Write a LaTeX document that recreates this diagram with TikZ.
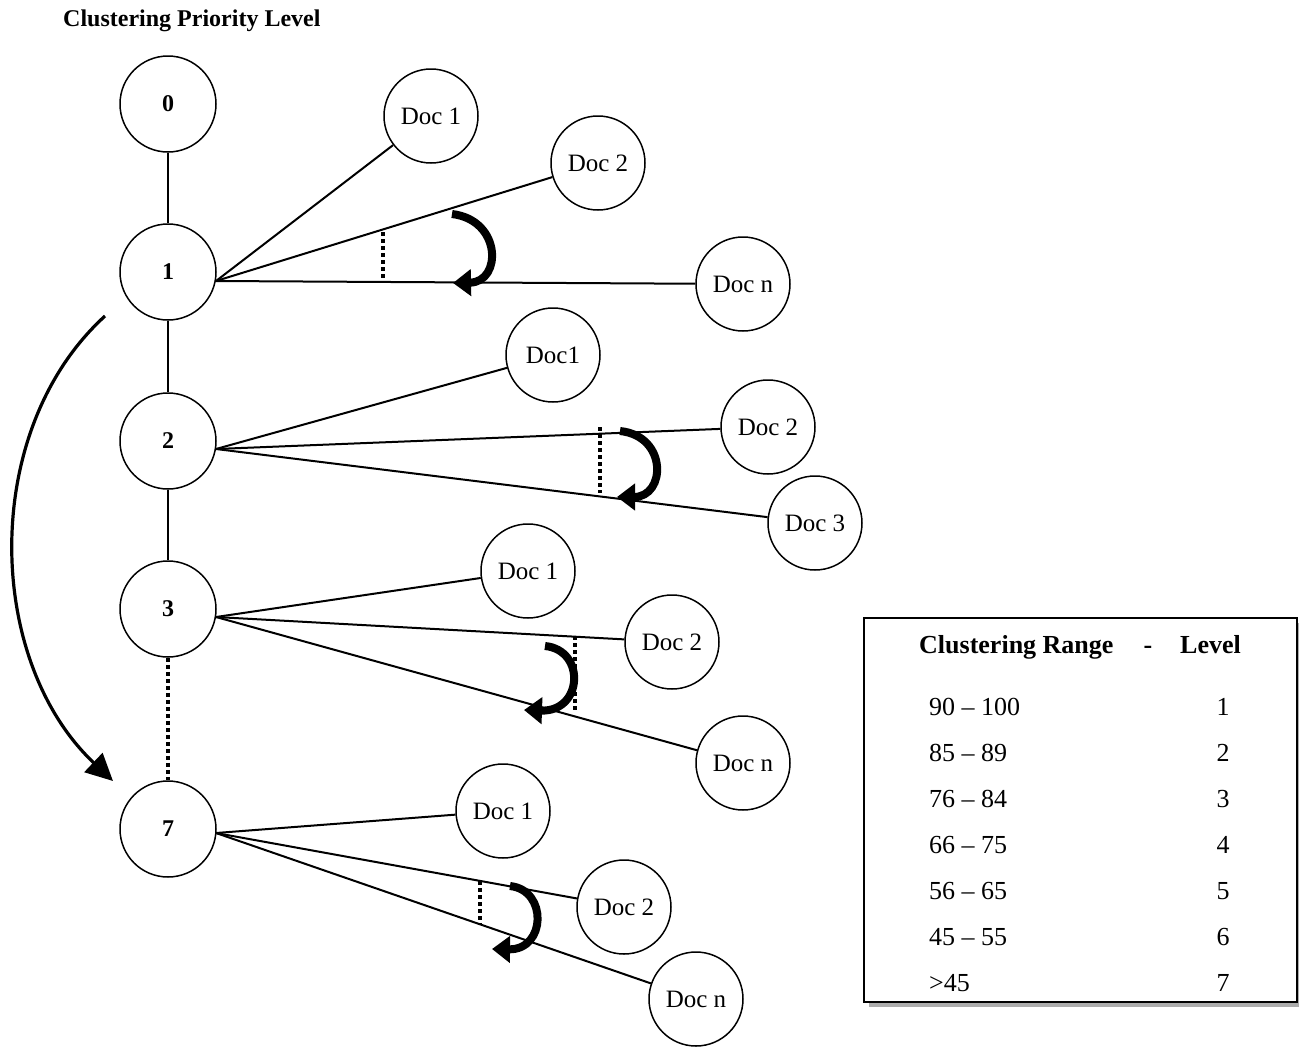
\documentclass[tikz,border=0pt]{standalone}
\usepackage{fontspec}
\setmainfont{Liberation Serif}
\usetikzlibrary{arrows.meta}
\begin{document}
\begin{tikzpicture}[x=1pt,y=-1pt,
  lvl/.style={circle,draw,line width=1.5pt,minimum size=96pt,inner sep=0pt,font=\fontsize{24}{28}\selectfont\bfseries},
  doc/.style={circle,draw,line width=1.5pt,minimum size=94pt,inner sep=0pt,font=\fontsize{25}{30}\selectfont},
  conn/.style={line width=2pt},
  dotv/.style={line width=3.5pt,dash pattern=on 4pt off 3pt},
  turn/.style={line width=8pt,-{Triangle[length=18pt,width=26pt]}},
  tab/.style={font=\fontsize{26}{30}\selectfont,inner sep=0pt}]
\useasboundingbox (0,0) rectangle (1299,1047);
\node[anchor=base west,inner sep=0pt,font=\fontsize{24}{28}\selectfont\bfseries] (title) at (63,26) {Clustering Priority Level};
% level nodes
\node[lvl] (l0) at (168,104) {0};
\node[lvl] (l1) at (168,272) {1};
\node[lvl] (l2) at (168,441) {2};
\node[lvl] (l3) at (168,609) {3};
\node[lvl] (l7) at (168,829) {7};
\draw[conn] (l0) -- (l1);
\draw[conn] (l1) -- (l2);
\draw[conn] (l2) -- (l3);
\draw[dotv] (l3) -- (l7);
% origins
\coordinate (o1) at (216,281);
\coordinate (o2) at (216,449);
\coordinate (o3) at (216,617);
\coordinate (o7) at (216,833);
% docs
\node[doc] (d11) at (431,116) {Doc 1};
\node[doc] (d12) at (598,163) {Doc 2};
\node[doc] (d1n) at (743,284) {Doc n};
\node[doc] (d21) at (553,355) {Doc1};
\node[doc] (d22) at (768,427) {Doc 2};
\node[doc] (d23) at (815,523) {Doc 3};
\node[doc] (d31) at (528,571) {Doc 1};
\node[doc] (d32) at (672,642) {Doc 2};
\node[doc] (d3n) at (743,763) {Doc n};
\node[doc] (d71) at (503,811) {Doc 1};
\node[doc] (d72) at (624,907) {Doc 2};
\node[doc] (d7n) at (696,999) {Doc n};
\foreach \o/\d in {o1/d11,o1/d12,o1/d1n,o2/d21,o2/d22,o2/d23,o3/d31,o3/d32,o3/d3n,o7/d71,o7/d72,o7/d7n}
  \draw[conn] (\o) -- (\d);
% dotted short lines
\coordinate (a1) at (383,232); \coordinate (b1) at (383,280);
\coordinate (a2) at (600,427); \coordinate (b2) at (600,493);
\coordinate (a3) at (575,636); \coordinate (b3) at (575,712);
\coordinate (a7) at (480,881); \coordinate (b7) at (480,925);
\draw[dotv] (a1) -- (b1);
\draw[dotv] (a2) -- (b2);
\draw[dotv] (a3) -- (b3);
\draw[dotv] (a7) -- (b7);
% turn arrows
\coordinate (s1) at (452,214); \coordinate (e1) at (453,283);
\coordinate (s2) at (620,431); \coordinate (e2) at (617,497);
\coordinate (s3) at (545,646); \coordinate (e3) at (524,710);
\coordinate (s7) at (510,886); \coordinate (e7) at (492,949);
\draw[turn] (s1) .. controls (502,220) and (502,282) .. (e1);
\draw[turn] (s2) .. controls (668,436) and (666,497) .. (e2);
\draw[turn] (s3) .. controls (586,650) and (583,712) .. (e3);
\draw[turn] (s7) .. controls (548,890) and (546,950) .. (e7);
% big arrow
\coordinate (bs) at (105,316); \coordinate (be) at (113,781);
\draw[line width=3.2pt,-{Triangle[length=27pt,width=26pt]}] (bs) .. controls (-20,430) and (-15,660) .. (be);
% table
\fill[gray!65] (869,623) rectangle (1302,1007);
\node[draw,fill=white,line width=1.8pt,minimum width=433pt,minimum height=384pt,inner sep=0pt,anchor=north west] (box) at (863,617) {};
\node[tab,anchor=base west,font=\fontsize{26}{30}\selectfont\bfseries] (h1) at (919,653) {Clustering Range};
\node[tab,anchor=base,font=\fontsize{26}{30}\selectfont\bfseries] (h2) at (1148,653) {-};
\node[tab,anchor=base west,font=\fontsize{26}{30}\selectfont\bfseries] (h3) at (1180,653) {Level};
\foreach \r/\v/\y [count=\i] in {90 -- 100/1/715, 85 -- 89/2/761, 76 -- 84/3/807, 66 -- 75/4/853, 56 -- 65/5/899, 45 -- 55/6/945, >45/7/991}{
  \node[tab,anchor=base west] (r\i) at (929,\y) {\r};
  \node[tab,anchor=base] (v\i) at (1223,\y) {\v};
}
\end{tikzpicture}
\end{document}
